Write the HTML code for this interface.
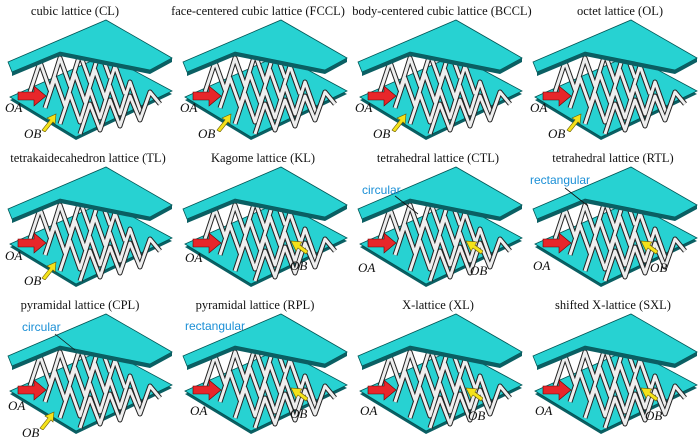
<!DOCTYPE html>
<html><head><meta charset="utf-8"><style>
html,body{margin:0;padding:0;background:#fff;}
svg{display:block;}
text{font-family:"Liberation Serif",serif;}
.t{font-size:12.5px;fill:#111;text-anchor:middle;}
.l{font-size:13px;font-style:italic;fill:#111;}
.c{font-family:"Liberation Sans",sans-serif;font-size:12px;fill:#1a8fd6;}
</style></head><body>
<svg width="700" height="441" viewBox="0 0 700 441" xmlns="http://www.w3.org/2000/svg">
<defs>
<symbol id="cell" viewBox="0 0 175 145" width="175" height="145">
  <polygon points="10,100 105,58 172,94 76,140" fill="#0b5f63"/>
  <polygon points="10,97 105,55 172,91 76,137" fill="#27d2d2" stroke="#055" stroke-width="0.8"/>
  <g stroke="#222" stroke-width="5" fill="none" stroke-linejoin="round">
    <polyline points="30,92 40,62 50,90 60,58 70,86 80,54 90,82 100,50 110,78"/>
    <polyline points="45,108 55,78 65,106 75,74 85,102 95,70 105,98 115,66 125,94"/>
    <polyline points="60,124 70,94 80,122 90,90 100,118 110,86 120,114 130,82 140,110"/>
    <polyline points="80,134 90,104 100,130 110,100 120,126 130,96 140,120 150,92 160,104"/>
  </g>
  <g stroke="#eee" stroke-width="3" fill="none" stroke-linejoin="round">
    <polyline points="30,92 40,62 50,90 60,58 70,86 80,54 90,82 100,50 110,78"/>
    <polyline points="45,108 55,78 65,106 75,74 85,102 95,70 105,98 115,66 125,94"/>
    <polyline points="60,124 70,94 80,122 90,90 100,118 110,86 120,114 130,82 140,110"/>
    <polyline points="80,134 90,104 100,130 110,100 120,126 130,96 140,120 150,92 160,104"/>
  </g>
  <polygon points="8,62 106,20 172,58 150,70 60,52 12,72" fill="#27d2d2" stroke="#055" stroke-width="0.8"/>
  <polygon points="12,72 60,52 150,70 172,58 172,62 150,74 60,56 12,76" fill="#0b5f63"/>
  <polygon points="18,92 34,92 34,86 46,96 34,106 34,100 18,100" fill="#e8262a" stroke="#600" stroke-width="0.6"/>
</symbol>
<symbol id="yel" viewBox="0 0 20 20" width="20" height="20">
  <polygon points="2,18 10,8 7,6 16,2 15,12 13,10 5,20" fill="#f4e21a" stroke="#650" stroke-width="0.6"/>
</symbol>
<symbol id="yelL" viewBox="0 0 20 20" width="20" height="20">
  <polygon points="18,16 10,10 8,13 3,3 14,4 12,7 20,13" fill="#f4e21a" stroke="#650" stroke-width="0.6"/>
</symbol>
</defs>

<text class="t" x="75" y="15">cubic lattice (CL)</text>
<text class="t" x="258" y="15">face-centered cubic lattice (FCCL)</text>
<text class="t" x="442" y="15">body-centered cubic lattice (BCCL)</text>
<text class="t" x="620" y="15">octet lattice (OL)</text>
<use href="#cell" x="0" y="0"/><use href="#cell" x="175" y="0"/><use href="#cell" x="350" y="0"/><use href="#cell" x="525" y="0"/>
<use href="#yel" x="40" y="112"/><use href="#yel" x="215" y="112"/><use href="#yel" x="390" y="112"/><use href="#yel" x="565" y="112"/>
<text class="l" x="5" y="112">OA</text><text class="l" x="24" y="138">OB</text>
<text class="l" x="180" y="112">OA</text><text class="l" x="198" y="138">OB</text>
<text class="l" x="355" y="112">OA</text><text class="l" x="373" y="138">OB</text>
<text class="l" x="530" y="112">OA</text><text class="l" x="548" y="138">OB</text>

<text class="t" x="88" y="162">tetrakaidecahedron lattice (TL)</text>
<text class="t" x="263" y="162">Kagome lattice (KL)</text>
<text class="t" x="438" y="162">tetrahedral lattice (CTL)</text>
<text class="t" x="613" y="162">tetrahedral lattice (RTL)</text>
<use href="#cell" x="0" y="147"/><use href="#cell" x="175" y="147"/><use href="#cell" x="350" y="147"/><use href="#cell" x="525" y="147"/>
<use href="#yel" x="40" y="260"/><use href="#yelL" x="288" y="238"/><use href="#yelL" x="463" y="238"/><use href="#yelL" x="638" y="238"/>
<text class="l" x="5" y="260">OA</text><text class="l" x="24" y="285">OB</text>
<text class="l" x="185" y="262">OA</text><text class="l" x="290" y="270">OB</text>
<text class="l" x="358" y="272">OA</text><text class="l" x="470" y="275">OB</text>
<text class="l" x="533" y="270">OA</text><text class="l" x="650" y="272">OB</text>
<text class="c" x="362" y="194">circular</text>
<line x1="395" y1="196" x2="418" y2="214" stroke="#111" stroke-width="0.8"/>
<text class="c" x="530" y="184">rectangular</text>
<line x1="565" y1="188" x2="588" y2="206" stroke="#111" stroke-width="0.8"/>

<text class="t" x="80" y="309">pyramidal lattice (CPL)</text>
<text class="t" x="255" y="309">pyramidal lattice (RPL)</text>
<text class="t" x="438" y="309">X-lattice (XL)</text>
<text class="t" x="613" y="309">shifted X-lattice (SXL)</text>
<use href="#cell" x="0" y="294"/><use href="#cell" x="175" y="294"/><use href="#cell" x="350" y="294"/><use href="#cell" x="525" y="294"/>
<use href="#yel" x="38" y="410"/><use href="#yelL" x="288" y="385"/><use href="#yelL" x="463" y="385"/><use href="#yelL" x="638" y="385"/>
<text class="l" x="8" y="410">OA</text><text class="l" x="22" y="437">OB</text>
<text class="l" x="190" y="415">OA</text><text class="l" x="290" y="418">OB</text>
<text class="l" x="360" y="415">OA</text><text class="l" x="468" y="420">OB</text>
<text class="l" x="535" y="415">OA</text><text class="l" x="645" y="420">OB</text>
<text class="c" x="22" y="331">circular</text>
<line x1="55" y1="334" x2="75" y2="350" stroke="#111" stroke-width="0.8"/>
<text class="c" x="185" y="330">rectangular</text>
</svg>
</body></html>
